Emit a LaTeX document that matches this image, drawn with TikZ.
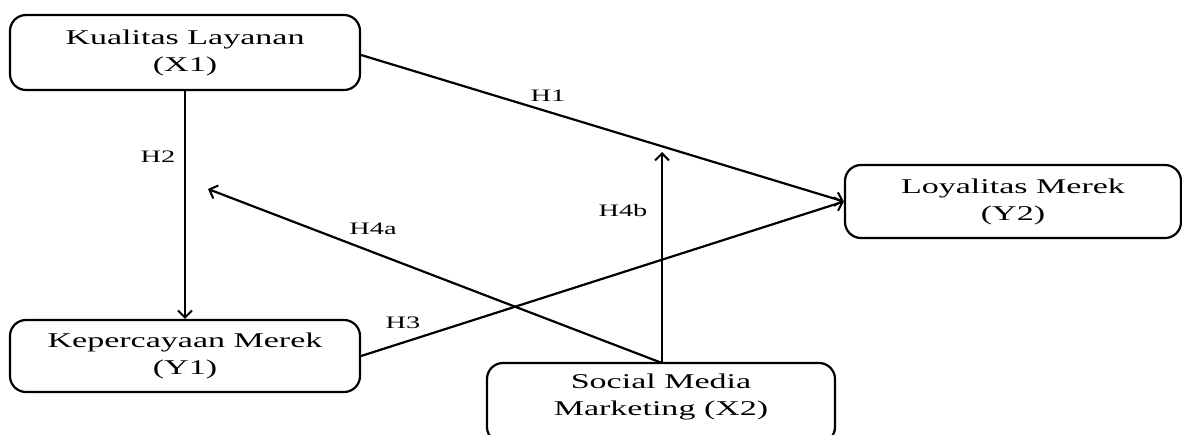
\documentclass[tikz,border=0pt]{standalone}
\usepackage{fontspec}
\setmainfont{Liberation Serif}
\usetikzlibrary{arrows.meta}
\newcommand{\sx}[1]{\scalebox{1.62}[1]{#1}}
\begin{document}
\begin{tikzpicture}[x=1pt,y=-1pt,
  box/.style={draw,line width=2.2pt,rounded corners=16pt,align=center,
    font=\fontsize{21}{27}\selectfont,inner sep=0pt},
  conn/.style={line width=2.2pt,-{Straight Barb[length=7pt,width=14pt,line width=2pt]}},
  lab/.style={font=\fontsize{17.5}{20}\selectfont}]
\useasboundingbox (0,0) rectangle (1182,434);
\node[box,minimum width=350pt,minimum height=75pt] (x1) at (185,52.5) {\sx{Kualitas Layanan}\\\sx{(X1)}};
\node[box,minimum width=336pt,minimum height=73pt] (y2) at (1013,201.5) {\sx{Loyalitas Merek}\\\sx{(Y2)}};
\node[box,minimum width=350pt,minimum height=72pt] (y1) at (185,356) {\sx{Kepercayaan Merek}\\\sx{(Y1)}};
\node[box,minimum width=348pt,minimum height=80pt] (x2) at (661,403) {};
\node[font=\fontsize{21}{27}\selectfont,align=center,inner sep=0pt] (x2t) at (661,397) {\sx{Social Media}\\\sx{Marketing (X2)}};
\coordinate (h4at) at (208,189);
\coordinate (h4bt) at (662,152);
\coordinate (x2top) at (662,363);
\draw[conn] (x1.east |- 0,55) -- (y2.west);
\draw[conn] (x1.south) -- (y1.north);
\draw[conn] (y1.east) -- (y2.west);
\draw[conn] (x2top) -- (h4at);
\draw[conn] (x2top) -- (h4bt);
\node[lab] (l1) at (548,96) {\sx{H1}};
\node[lab] (l2) at (158,157) {\sx{H2}};
\node[lab] (l3) at (403,323) {\sx{H3}};
\node[lab] (l4a) at (373,229) {\sx{H4a}};
\node[lab] (l4b) at (623,211) {\sx{H4b}};
\end{tikzpicture}
\end{document}
